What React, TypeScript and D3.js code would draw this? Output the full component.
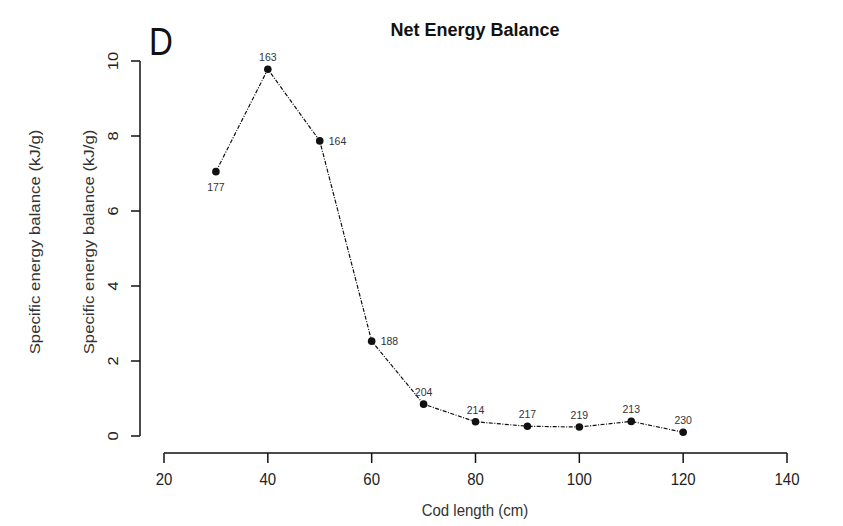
import React from "react";
import * as d3 from "d3";

const lengths = [30, 40, 50, 60, 70, 80, 90, 100, 110, 120];
const balance = [7.05, 9.78, 7.87, 2.53, 0.85, 0.38, 0.26, 0.24, 0.39, 0.1];
const counts = ["177", "163", "164", "188", "204", "214", "217", "219", "213", "230"];
const labelPos = ["below", "above", "right", "right", "above", "above", "above", "above", "above", "above"];
const xTicks = [20, 40, 60, 80, 100, 120, 140];
const yTicks = [0, 2, 4, 6, 8, 10];

const W = 843;
const H = 526;
const FONT = "Liberation Sans, Arial, sans-serif";
const SY = 1.09;

export default function App() {
  const x = d3.scaleLinear().domain([20, 140]).range([164, 787]);
  const y = d3.scaleLinear().domain([0, 10]).range([436, 61]);
  const line = d3
    .line<number>()
    .x((_, i) => x(lengths[i]))
    .y((d) => y(d));

  const xAxisY = 453;
  const yAxisX = 140;

  return (
    <div style={{ position: "absolute", left: 0, top: 0 }}>
      <svg width={W} height={H} style={{ display: "block", background: "#fff" }}>
        <rect width={W} height={H} fill="#fff" />
        <text x={475} y={36} textAnchor="middle" fontFamily={FONT} fontWeight="bold" fontSize={18} fill="#111">
          Net Energy Balance
        </text>
        <text transform="translate(149,55) scale(0.87,1)" fontFamily={FONT} fontSize={38} fill="#111">
          D
        </text>

        {/* Y axis */}
        <line x1={yAxisX} x2={yAxisX} y1={y(10)} y2={y(0)} stroke="#111" strokeWidth={1.5} />
        {yTicks.map((t) => (
          <g key={t}>
            <line x1={yAxisX - 9} x2={yAxisX} y1={y(t)} y2={y(t)} stroke="#111" strokeWidth={1.5} />
            <text
              transform={`translate(118,${y(t)}) rotate(-90) scale(${SY},1)`}
              textAnchor="middle"
              fontFamily={FONT}
              fontSize={15}
              fill="#222"
            >
              {t}
            </text>
          </g>
        ))}
        {[40, 94].map((px) => (
          <text
            key={px}
            transform={`translate(${px},242) rotate(-90) scale(${SY},1)`}
            textAnchor="middle"
            fontFamily={FONT}
            fontSize={15.4}
            fill="#333"
          >
            Specific energy balance (kJ/g)
          </text>
        ))}

        {/* X axis */}
        <line x1={x(20)} x2={x(140)} y1={xAxisY} y2={xAxisY} stroke="#111" strokeWidth={1.5} />
        {xTicks.map((t) => (
          <g key={t}>
            <line x1={x(t)} x2={x(t)} y1={xAxisY} y2={xAxisY + 10} stroke="#111" strokeWidth={1.5} />
            <text
              transform={`translate(${x(t)},485) scale(1,${SY})`}
              textAnchor="middle"
              fontFamily={FONT}
              fontSize={15}
              fill="#222"
            >
              {t}
            </text>
          </g>
        ))}
        <text
          transform={`translate(475,516) scale(1,${SY})`}
          textAnchor="middle"
          fontFamily={FONT}
          fontSize={15}
          fill="#333"
        >
          Cod length (cm)
        </text>

        {/* Data line */}
        <path d={line(balance) || ""} fill="none" stroke="#111" strokeWidth={1.2} strokeDasharray="4,1.5,1,1.5" />
        {balance.map((v, i) => {
          const cx = x(lengths[i]);
          const cy = y(v);
          const pos = labelPos[i];
          let lx = cx;
          let ly = cy - 8;
          let anchor: "middle" | "start" = "middle";
          if (pos === "below") {
            ly = cy + 19;
          } else if (pos === "right") {
            lx = cx + 9;
            ly = cy + 4;
            anchor = "start";
          }
          return (
            <g key={i}>
              <circle cx={cx} cy={cy} r={3.8} fill="#111" />
              <text
                transform={`translate(${lx},${ly}) scale(1,${SY})`}
                textAnchor={anchor}
                fontFamily={FONT}
                fontSize={10.5}
                fill="#333"
              >
                {counts[i]}
              </text>
            </g>
          );
        })}
      </svg>
    </div>
  );
}
